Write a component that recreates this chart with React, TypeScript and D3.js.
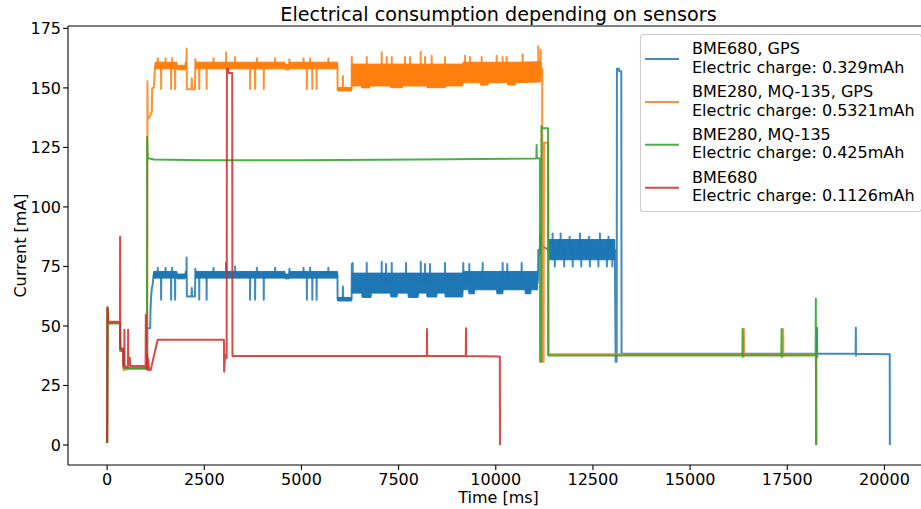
import React from "react";
import * as d3 from "d3";

type P = [number, number];
type B = [number, number, number];

const seriesNames = ["BME680, GPS", "BME280, MQ-135, GPS", "BME280, MQ-135", "BME680"];
const seriesCharges = ["0.329mAh", "0.5321mAh", "0.425mAh", "0.1126mAh"];
const seriesColors = ["#1f77b4", "#ff7f0e", "#2ca02c", "#d62728"];
const xTicks = [0, 2500, 5000, 7500, 10000, 12500, 15000, 17500, 20000];
const yTicks = [0, 25, 50, 75, 100, 125, 150, 175];

// BME680, GPS  [time ms, current mA]
const blueTrace: P[] = [
  [0, 0.8], [10, 57.5], [25, 51.2], [330, 51.2], [338, 40], [420, 40], [425, 32.2], [1030, 32.2],
  [1034, 49], [1106, 49], [1115, 56], [1130, 62], [1150, 66], [1170, 67], [1195, 71.5],
  [1300, 71.5], [1303, 74.5], [1306, 71.5],
  [1385, 71.5], [1389, 61], [1393, 71.5], [1500, 71.5], [1503, 74.5], [1506, 71.5],
  [1642, 71.5], [1646, 61], [1650, 71.5], [1670, 71.5], [1673, 74.5], [1676, 71.5],
  [1745, 71.5], [1749, 61], [1753, 71.5], [1800, 70.8], [2006, 70.8],
  [2040, 71.5], [2045, 78.8], [2052, 62.4], [2170, 62.4], [2178, 66], [2186, 62.4], [2260, 62.4],
  [2270, 74], [2280, 71.5],
  [2366, 71.5], [2370, 61], [2374, 71.5], [2556, 71.5], [2560, 61], [2564, 71.5],
  [2735, 71.5], [2738, 74.5], [2741, 71.5], [3058, 71.5], [3061, 76.6], [3064, 71.5],
  [3290, 71.5], [3293, 75], [3296, 71.5],
  [3674, 71.5], [3678, 61], [3682, 71.5], [3803, 71.5], [3807, 61], [3811, 71.5],
  [3850, 71.5], [3853, 74.5], [3856, 71.5],
  [4026, 71.5], [4030, 61], [4034, 71.5], [4320, 71.5], [4323, 74.5], [4326, 71.5],
  [4575, 71.5], [4578, 70.8], [4681, 70.8], [4690, 74], [4700, 71.5],
  [5050, 71.5], [5053, 74.5], [5056, 71.5],
  [5136, 71.5], [5140, 61], [5144, 71.5], [5220, 71.5], [5223, 74.5], [5226, 71.5],
  [5276, 71.5], [5280, 61], [5284, 71.5], [5386, 71.5], [5390, 61], [5394, 71.5],
  [5690, 71.5], [5693, 74.5], [5696, 71.5],
  [5926, 71.5], [5930, 61.3], [6060, 61.3], [6066, 66.6], [6075, 61.3], [6290, 61.3],
  [6296, 76], [6302, 68],
  [6316, 68], [6319, 76.5], [6322, 68], [6677, 68], [6680, 76.5], [6683, 68],
  [7062, 68], [7065, 77], [7068, 68], [7173, 68], [7176, 76], [7179, 68],
  [7320, 68], [7323, 76.5], [7326, 68], [7687, 68], [7690, 76.5], [7693, 68],
  [8066, 68], [8069, 77], [8072, 68], [8176, 68], [8179, 76], [8182, 68],
  [8305, 68], [8308, 76], [8311, 68], [8690, 68], [8693, 76.5], [8696, 68],
  [9161, 68], [9164, 76.5], [9167, 68], [9316, 68], [9319, 76], [9322, 68],
  [9660, 68], [9663, 76.5], [9666, 68], [10174, 68], [10177, 76.5], [10180, 68],
  [10293, 68], [10296, 76], [10299, 68], [10663, 68], [10666, 76.5], [10669, 68],
  [11075, 68], [11085, 70], [11095, 82], [11130, 80], [11145, 88.3], [11160, 84], [11355, 82],
  [11459, 82], [11462, 88.8], [11465, 82], [11517, 82], [11520, 75], [11523, 82],
  [11666, 82], [11669, 88.8], [11672, 82], [11757, 82], [11760, 75], [11763, 82],
  [11897, 82], [11900, 87.5], [11903, 82], [11977, 82], [11980, 75], [11983, 82],
  [12163, 82], [12166, 88.8], [12169, 82], [12197, 82], [12200, 75], [12203, 82],
  [12397, 82], [12400, 87.5], [12403, 82], [12417, 82], [12420, 75], [12423, 82],
  [12637, 82], [12640, 75], [12643, 82], [12677, 82], [12680, 88.8], [12683, 82],
  [12857, 82], [12860, 75], [12863, 82], [12897, 82], [12900, 87.5], [12903, 82],
  [12997, 82], [13000, 75], [13003, 82],
  [13060, 82], [13066, 80], [13070, 65], [13085, 35], [13110, 35], [13117, 158], [13170, 158],
  [13175, 157], [13230, 157], [13236, 38.3], [18262, 38.3], [18266, 49.3], [18270, 37], [18276, 38.3],
  [19260, 38.3], [19264, 49.3], [19268, 37.5], [19274, 38.3], [20137, 38.1], [20140, 0],
];
// [time ms, high mA, low mA] envelopes of the dense oscillation
const blueBandA: B[] = [[1195, 72.9, 70.1], [1795, 72.9, 70.1], [1800, 71.8, 69.8], [2006, 71.8, 69.8], [2010, 72.9, 70.1], [2040, 72.9, 70.1]];
const blueBandB: B[] = [[2280, 72.9, 70.1], [4575, 72.9, 70.1], [4578, 71.8, 69.8], [4681, 71.8, 69.8], [4690, 72.9, 70.1], [5926, 72.9, 70.1]];
const blueBandL: B[] = [[5930, 62, 60.5], [6290, 62, 60.5]];
const blueBandC: B[] = [
  [6300, 72.2, 63.8], [6550, 72.2, 63.8], [6560, 72.2, 62], [6790, 72.2, 62], [6800, 72.2, 63.8],
  [7290, 72.2, 63.8], [7300, 72.2, 62.2], [7460, 72.2, 62.2], [7470, 72.2, 63.8], [7740, 72.2, 63.8],
  [7750, 72.2, 62], [8000, 72.2, 62], [8010, 72.2, 63.8], [8220, 72.2, 63.8], [8230, 72.2, 62.2],
  [8480, 72.2, 62.2], [8490, 72.2, 63.8], [8690, 72.2, 63.8], [8700, 72.2, 62.2], [9150, 72.2, 62.2],
  [9160, 72.9, 65.2], [9300, 72.9, 65.2], [9310, 72.9, 63.5], [9450, 72.9, 63.5], [9460, 72.9, 65.2],
  [10020, 72.9, 65.2], [10030, 72.9, 63.5], [10180, 72.9, 63.5], [10190, 72.9, 65.2], [10750, 72.9, 65.2],
  [10760, 72.9, 63.5], [10900, 72.9, 63.5], [10910, 72.9, 65.2], [11075, 72.9, 65.2],
];
const blueBandD: B[] = [[11355, 86.3, 77.8], [13062, 86.3, 77.8]];

// BME280, MQ-135, GPS
const orangeTrace: P[] = [
  [0, 0.8], [10, 57.5], [25, 51.2], [330, 51.2], [338, 40], [420, 40], [425, 31.5], [600, 32], [1030, 32],
  [1037, 152.8], [1045, 136.7], [1100, 138], [1150, 140], [1160, 150], [1200, 150], [1235, 159.3],
  [1300, 159.3], [1303, 162.5], [1306, 159.3],
  [1385, 159.3], [1389, 149.5], [1393, 159.3], [1500, 159.3], [1503, 162.5], [1506, 159.3],
  [1642, 159.3], [1646, 149.5], [1650, 159.3], [1670, 159.3], [1673, 162.5], [1676, 159.3],
  [1745, 159.3], [1749, 149.5], [1753, 159.3], [1800, 158.5], [2006, 158.5],
  [2040, 159.3], [2045, 166.5], [2052, 149.4], [2170, 149.4], [2178, 154], [2186, 149.4], [2260, 149.4],
  [2270, 162], [2280, 159.3],
  [2366, 159.3], [2370, 149.5], [2374, 159.3], [2556, 159.3], [2560, 149.5], [2564, 159.3],
  [2735, 159.3], [2738, 162.5], [2741, 159.3], [3058, 159.3], [3061, 165], [3064, 159.3],
  [3290, 159.3], [3293, 163], [3296, 159.3],
  [3674, 159.3], [3678, 149.5], [3682, 159.3], [3803, 159.3], [3807, 149.5], [3811, 159.3],
  [3850, 159.3], [3853, 162.5], [3856, 159.3],
  [4026, 159.3], [4030, 149.5], [4034, 159.3], [4320, 159.3], [4323, 162.5], [4326, 159.3],
  [4575, 159.3], [4578, 158.5], [4681, 158.5], [4690, 162], [4700, 159.3],
  [5050, 159.3], [5053, 162.5], [5056, 159.3],
  [5136, 159.3], [5140, 149.5], [5144, 159.3], [5220, 159.3], [5223, 162.5], [5226, 159.3],
  [5276, 159.3], [5280, 149.5], [5284, 159.3], [5386, 159.3], [5390, 149.5], [5394, 159.3],
  [5690, 159.3], [5693, 162.5], [5696, 159.3],
  [5926, 159.3], [5930, 149.4], [6060, 149.4], [6066, 155], [6075, 149.4], [6290, 149.4],
  [6294, 163], [6300, 156],
  [6677, 156], [6680, 163], [6683, 156], [7062, 156], [7065, 165], [7068, 156],
  [7191, 156], [7194, 163], [7197, 156], [7320, 156], [7323, 163], [7326, 156],
  [7662, 156], [7665, 163], [7668, 156], [7790, 156], [7793, 163], [7796, 156],
  [8066, 156], [8069, 165.2], [8072, 156], [8176, 156], [8179, 163], [8182, 156],
  [8348, 156], [8351, 163.5], [8354, 156], [8690, 156], [8693, 163], [8696, 156],
  [9205, 156], [9208, 163.5], [9211, 156], [9333, 156], [9336, 163], [9339, 156],
  [9634, 156], [9637, 163], [9640, 156], [10020, 156], [10023, 163.5], [10026, 156],
  [10174, 156], [10177, 163], [10180, 156], [10277, 156], [10280, 163], [10283, 156],
  [10689, 156], [10692, 164], [10695, 156],
  [11090, 156], [11093, 167.5], [11100, 156], [11150, 156], [11155, 166], [11160, 158], [11195, 158],
  [11200, 35], [11230, 35], [11240, 127], [11350, 127], [11355, 38.1],
  [16380, 38.1], [16384, 48.7], [16388, 37.5], [16392, 38.1],
  [17391, 38.1], [17395, 48.7], [17399, 37.5], [17403, 38.1], [18250, 38.1], [18254, 0],
];
const orangeBandA: B[] = [[1235, 160.8, 158], [1795, 160.8, 158], [1800, 159.5, 157.6], [2006, 159.5, 157.6], [2010, 160.8, 158], [2040, 160.8, 158]];
const orangeBandB: B[] = [[2280, 160.8, 158], [4575, 160.8, 158], [4578, 159.8, 157.6], [4681, 159.8, 157.6], [4690, 160.8, 158], [5926, 160.8, 158]];
const orangeBandL: B[] = [[5930, 150.2, 148.7], [6290, 150.2, 148.7]];
const orangeBandC: B[] = [
  [6300, 160, 150.8], [6540, 160, 150.8], [6550, 160, 150], [6760, 160, 150], [6770, 160, 150.8],
  [7280, 160, 150.8], [7290, 160, 150.1], [7600, 160, 150.1], [7610, 160, 150.8], [8220, 160, 150.8],
  [8230, 160, 150.1], [8700, 160, 150.1], [8710, 160, 150.8], [9150, 160, 150.8], [9160, 160.8, 152.2],
  [9600, 160.8, 152.2], [9610, 160.8, 151.2], [9800, 160.8, 151.2], [9810, 160.8, 152.2], [10300, 160.8, 152.2],
  [10310, 160.8, 151.2], [10500, 160.8, 151.2], [10510, 160.8, 152.2], [11160, 161, 152.5],
];

// BME280, MQ-135
const greenTrace: P[] = [
  [0, 0.8], [10, 57], [25, 51], [330, 51], [338, 39.5], [420, 39.5], [425, 32.5], [600, 32.2], [1025, 32.2],
  [1030, 129.5], [1045, 120.5], [1200, 119.9], [2500, 119.6], [5000, 119.6], [8000, 119.9], [11045, 120.3],
  [11050, 126], [11056, 120.5], [11135, 120.5], [11140, 35], [11170, 35], [11175, 134], [11190, 133],
  [11345, 133], [11350, 37.6], [16345, 37.6], [16350, 48.7], [16354, 37], [16358, 37.6],
  [17348, 37.6], [17353, 48.7], [17357, 37], [17361, 37.6], [18230, 37.6], [18235, 61.4], [18240, 0],
];

// BME680
const redTrace: P[] = [
  [0, 0.8], [10, 58], [25, 51.8], [330, 51.8], [334, 87.5], [338, 40.5], [411, 40.5], [415, 33.5],
  [442, 33.5], [445, 48.4], [449, 33], [536, 33], [540, 48.4], [544, 34], [560, 36.6], [585, 36.6],
  [590, 33.2], [990, 33.2], [995, 54.7], [1000, 32], [1030, 38], [1040, 31.5], [1060, 36], [1080, 31.5],
  [1120, 31.5], [1300, 44.2], [3005, 44.2], [3010, 30.8], [3030, 36], [3060, 38], [3075, 36.5],
  [3082, 158], [3118, 158], [3122, 156.3], [3218, 156.3], [3224, 37.4], [8226, 37.4], [8230, 48.7],
  [8234, 37.4], [9229, 37.4], [9233, 49], [9237, 37.4], [10104, 37.2], [10108, 0],
];

const traces = [blueTrace, orangeTrace, greenTrace, redTrace];
const bands: B[][][] = [
  [blueBandA, blueBandB, blueBandL, blueBandC, blueBandD],
  [orangeBandA, orangeBandB, orangeBandL, orangeBandC],
  [],
  [],
];

const FONT = "DejaVu Sans, sans-serif";

export default function App() {
  const W = 921, H = 509;
  const L = 68, R = 929, T = 26, Bt = 465;
  const x = d3.scaleLinear().domain([-1007, 21147]).range([L, R]);
  const y = d3.scaleLinear().domain([-8.4, 176]).range([Bt, T]);
  const line = d3.line<P>().x((d) => x(d[0])).y((d) => y(d[1]));
  const area = d3.area<B>().x((d) => x(d[0])).y0((d) => y(d[2])).y1((d) => y(d[1]));
  const fs = 16;

  return (
    <svg width={W} height={H} style={{ position: "absolute", left: 0, top: 0, background: "#fff" }} fontFamily={FONT}>
      <rect x={0} y={0} width={W} height={H} fill="#fff" />
      <defs>
        <clipPath id="plot">
          <rect x={L} y={T} width={R - L} height={Bt - T} />
        </clipPath>
      </defs>
      <g clipPath="url(#plot)">
        {traces.map((tr, i) => (
          <g key={i}>
            {bands[i].map((b, j) => (
              <path key={j} d={area(b) || ""} fill={seriesColors[i]} stroke={seriesColors[i]} strokeWidth={1} />
            ))}
            <path d={line(tr) || ""} fill="none" stroke={seriesColors[i]} strokeWidth={2} strokeOpacity={0.85} strokeLinejoin="round" />
          </g>
        ))}
      </g>
      <g stroke="#000" strokeWidth={1.1} fill="none">
        <line x1={L} y1={T} x2={L} y2={Bt} />
        <line x1={L} y1={Bt} x2={R} y2={Bt} />
        <line x1={L} y1={T} x2={R} y2={T} />
        <line x1={R} y1={T} x2={R} y2={Bt} />
      </g>
      {xTicks.map((t) => (
        <g key={t}>
          <line x1={x(t)} x2={x(t)} y1={Bt} y2={Bt + 4.9} stroke="#000" strokeWidth={1.1} />
          <text x={x(t)} y={484.5} fontSize={fs} textAnchor="middle" fill="#000">{t}</text>
        </g>
      ))}
      {yTicks.map((t) => (
        <g key={t}>
          <line x1={L - 4.9} x2={L} y1={y(t)} y2={y(t)} stroke="#000" strokeWidth={1.1} />
          <text x={61} y={y(t) + 5.8} fontSize={fs} textAnchor="end" fill="#000">{t}</text>
        </g>
      ))}
      <text x={(L + R) / 2} y={503} fontSize={fs} textAnchor="middle" fill="#000">Time [ms]</text>
      <text transform={`translate(26, ${(T + Bt) / 2}) rotate(-90)`} fontSize={fs} textAnchor="middle" fill="#000">Current [mA]</text>
      <text x={(L + R) / 2} y={20.5} fontSize={19.2} textAnchor="middle" fill="#000">Electrical consumption depending on sensors</text>
      <rect x={640.5} y={34.5} width={281} height={177} rx={3} fill="#fff" fillOpacity={0.8} stroke="#cccccc" strokeWidth={1.1} />
      {seriesNames.map((n, i) => {
        const b1 = 54 + i * 42.9;
        return (
          <g key={n}>
            <line x1={645} x2={679} y1={b1 + 5} y2={b1 + 5} stroke={seriesColors[i]} strokeWidth={2} strokeOpacity={0.85} />
            <text x={692} y={b1} fontSize={fs} fill="#000">{n}</text>
            <text x={692} y={b1 + 18.6} fontSize={fs} fill="#000">{"Electric charge: " + seriesCharges[i]}</text>
          </g>
        );
      })}
    </svg>
  );
}
